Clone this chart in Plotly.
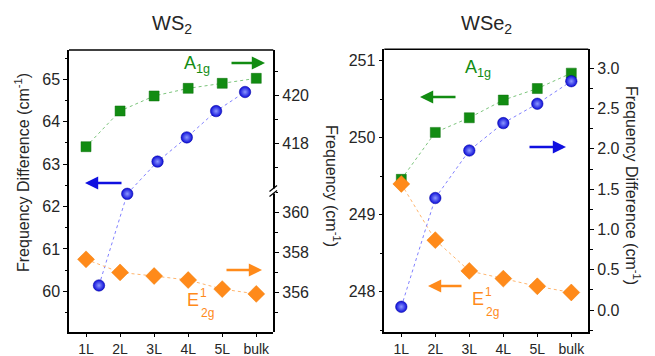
import plotly.graph_objects as go

W, H = 655, 356

# ---------------- data ----------------
layers = ["1L", "2L", "3L", "4L", "5L", "bulk"]
layer_pos = [0, 1, 2, 3, 4, 5]

# WS2 panel
ws2_a1g = [417.86, 419.36, 419.99, 420.31, 420.52, 420.73]       # right axis (upper)
ws2_e2g = [357.66, 357.01, 356.83, 356.63, 356.18, 355.94]       # right axis (lower)
ws2_diff = [60.14, 62.30, 63.06, 63.63, 64.25, 64.70]            # left axis
ws2_diff_x = [0.38, 1.21, 2.10, 2.96, 3.82, 4.67]                # as plotted in source

# WSe2 panel
wse2_a1g = [249.46, 250.07, 250.26, 250.49, 250.64, 250.84]      # left axis
wse2_e2g = [249.40, 248.67, 248.27, 248.17, 248.07, 247.99]      # left axis
wse2_diff = [0.04, 1.39, 1.98, 2.32, 2.56, 2.84]                 # right axis

# ---------------- style ----------------
FONT = "Liberation Sans, Arial, sans-serif"
GREEN, GREEN_L = "#128c12", "#7cc47c"
BLUE, BLUE_L = "#1010e0", "#8080ff"
ORANGE, ORANGE_L = "#ff8a1a", "#ffb56e"
TXT = "#262626"


def px(x):
    return x / W


def py(y):
    return (H - y) / H


sq = dict(symbol="square", size=10, color=GREEN, line=dict(color="#0b700b", width=0.5))
dia = dict(symbol="diamond", size=13, color=ORANGE, line=dict(color="#f07a00", width=0.5))
ball = dict(symbol="circle", size=11.5, color="#0c0cd8",
            gradient=dict(type="radial", color="#8c98ff"),
            line=dict(color="#0000a0", width=0.5))

fig = go.Figure()

# WS2
fig.add_trace(go.Scatter(x=layer_pos, y=ws2_a1g, xaxis="x", yaxis="y2", mode="lines+markers",
                         line=dict(color=GREEN_L, width=1, dash="dot"), marker=sq))
fig.add_trace(go.Scatter(x=layer_pos, y=ws2_e2g, xaxis="x", yaxis="y3", mode="lines+markers",
                         line=dict(color=ORANGE_L, width=1, dash="dot"), marker=dia))
fig.add_trace(go.Scatter(x=ws2_diff_x, y=ws2_diff, xaxis="x", yaxis="y", mode="lines+markers",
                         line=dict(color=BLUE_L, width=1, dash="dot"), marker=ball))
# WSe2
fig.add_trace(go.Scatter(x=layer_pos, y=wse2_a1g, xaxis="x2", yaxis="y4", mode="lines+markers",
                         line=dict(color=GREEN_L, width=1, dash="dot"), marker=sq))
fig.add_trace(go.Scatter(x=layer_pos, y=wse2_e2g, xaxis="x2", yaxis="y4", mode="lines+markers",
                         line=dict(color=ORANGE_L, width=1, dash="dot"), marker=dia))
fig.add_trace(go.Scatter(x=layer_pos, y=wse2_diff, xaxis="x2", yaxis="y5", mode="lines+markers",
                         line=dict(color=BLUE_L, width=1, dash="dot"), marker=ball))

axis_common = dict(showline=True, linecolor="black", linewidth=1.5, ticks="outside",
                   ticklen=4, tickwidth=1.2, tickcolor="black", showgrid=False, zeroline=False,
                   automargin=False, tickfont=dict(family=FONT, size=16, color=TXT))
minor_common = dict(ticks="outside", ticklen=2.5, tickcolor="black", tickwidth=1, showgrid=False)

xaxis_common = dict(axis_common, range=[-0.5, 5.5], tickvals=layer_pos, ticktext=layers,
                    tickfont=dict(family=FONT, size=14, color=TXT))

left_dom = [px(69), px(273.3)]
right_dom = [px(384.3), px(588.3)]
ydom = [py(331.7), py(50)]
ydom_r = [py(331.7), py(49.3)]
brk = py(191)

fig.update_layout(
    width=W, height=H, template="none", showlegend=False,
    margin=dict(l=0, r=0, t=0, b=0),
    paper_bgcolor="white", plot_bgcolor="rgba(0,0,0,0)",
    xaxis=dict(xaxis_common, domain=left_dom, anchor="y"),
    yaxis=dict(axis_common, domain=ydom, range=[59.05, 65.69], dtick=1, anchor="x",
               minor=dict(minor_common, dtick=0.5)),
    yaxis2=dict(axis_common, domain=[brk, ydom[1]], range=[416.0, 421.92], tickvals=[418, 420],
                side="right", anchor="x", minor=dict(minor_common, tickvals=[417, 419, 421])),
    yaxis3=dict(axis_common, domain=[ydom[0], brk], range=[354.06, 361.06],
                tickvals=[356, 358, 360], side="right", anchor="x",
                minor=dict(minor_common, tickvals=[355, 357, 359, 361])),
    xaxis2=dict(xaxis_common, domain=right_dom, anchor="y4"),
    yaxis4=dict(axis_common, domain=ydom_r, range=[247.48, 251.15], dtick=1,
                anchor="x2", minor=dict(minor_common, dtick=0.5)),
    yaxis5=dict(axis_common, range=[-0.269, 3.236], dtick=0.5, tickformat=".1f",
                side="right", anchor="x2", overlaying="y4",
                minor=dict(minor_common, dtick=0.25)),
)

ann = []


def text(x, y, s, size, color=TXT, angle=0):
    ann.append(dict(x=px(x), y=py(y), xref="paper", yref="paper", text=s, showarrow=False,
                    textangle=angle, xanchor="center", yanchor="middle",
                    font=dict(family=FONT, size=size, color=color)))


def arrow(x0, x1, y, color):
    ann.append(dict(x=px(x1), y=py(y), xref="paper", yref="paper", ax=x0 - x1, ay=0,
                    axref="pixel", ayref="pixel", text="", showarrow=True,
                    arrowhead=2, arrowsize=1.1, arrowwidth=2.4, arrowcolor=color))


# titles
text(172, 24, "WS<sub>2</sub>", 20)
text(486, 24, "WSe<sub>2</sub>", 20)
# axis titles
text(22, 173, "Frequency Difference (cm<sup>-1</sup>)", 16, angle=-90)
text(333, 186, "Frequency (cm<sup>-1</sup>)", 16, angle=90)
text(633, 185, "Frequency Difference (cm<sup>-1</sup>)", 16, angle=90)

# labels WS2
text(197, 65, "A<sub>1g</sub>", 18, GREEN)
text(193, 300, "E", 18, ORANGE)
text(203, 293, "1", 12, ORANGE)
text(207, 313, "2g", 12, ORANGE)
# labels WSe2
text(478, 69, "A<sub>1g</sub>", 18, GREEN)
text(478, 299, "E", 18, ORANGE)
text(488, 292, "1", 12, ORANGE)
text(492, 312, "2g", 12, ORANGE)

# arrows
arrow(230, 265, 63, GREEN)
arrow(123, 85, 183, BLUE)
arrow(225, 262, 270, ORANGE)
arrow(457, 420, 97, GREEN)
arrow(528, 566, 147, BLUE)
arrow(463, 428, 286, ORANGE)

fig.update_layout(annotations=ann)

shapes = []
# panel top edges (frame)
for xd, yt in ((left_dom, ydom[1]), (right_dom, ydom_r[1])):
    shapes.append(dict(type="line", xref="paper", yref="paper", x0=xd[0], x1=xd[1],
                       y0=yt, y1=yt, line=dict(color="black", width=1.6), layer="above"))
# axis break marks on the WS2 right axis
shapes.append(dict(type="rect", xref="paper", yref="paper", x0=px(271), x1=px(276),
                   y0=py(193.5), y1=py(188.5), line=dict(width=0), fillcolor="white",
                   layer="above"))
for dy in (-2.5, 2.5):
    shapes.append(dict(type="line", xref="paper", yref="paper",
                       x0=px(269.5), y0=py(194 + dy), x1=px(277), y1=py(188 + dy),
                       line=dict(color="black", width=1.2), layer="above"))
fig.update_layout(shapes=shapes)

fig.write_html("out.html")
